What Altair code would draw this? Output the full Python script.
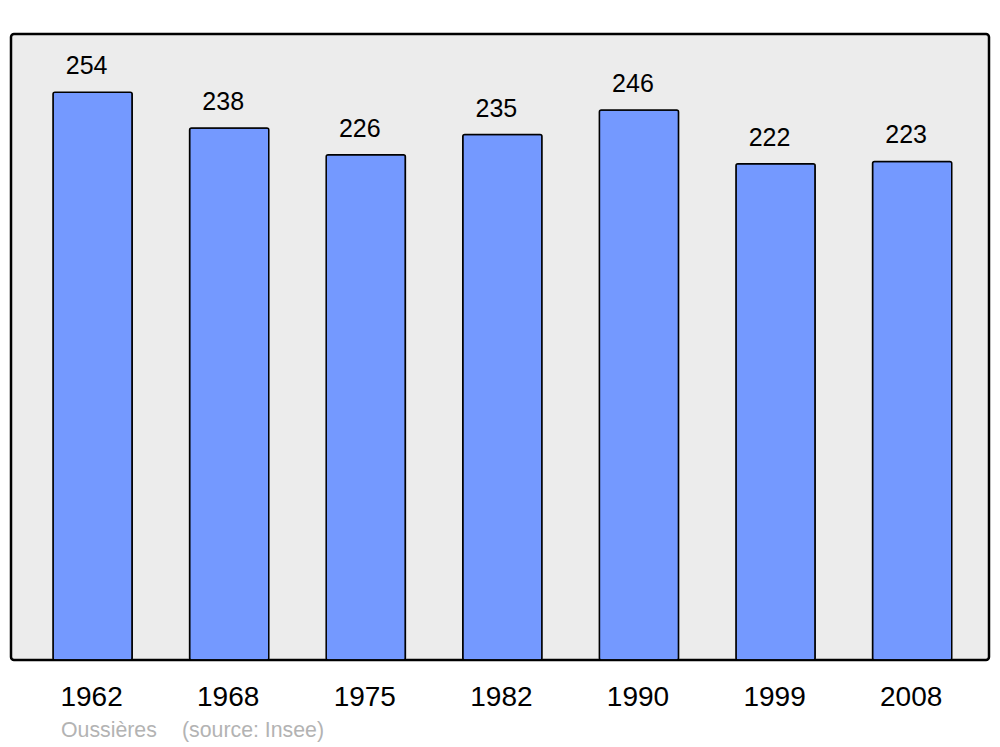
import altair as alt
import pandas as pd

years = ["1962", "1968", "1975", "1982", "1990", "1999", "2008"]
population = [254, 238, 226, 235, 246, 222, 223]
place = "Oussières"
source = "(source: Insee)"

df = pd.DataFrame({"year": years, "pop": population})

x = alt.X(
    "year:N",
    sort=years,
    title=None,
    scale=alt.Scale(paddingInner=0.42, paddingOuter=0.29, align=0.53),
    axis=alt.Axis(
        labelAngle=0,
        domain=False,
        ticks=False,
        grid=False,
        labelFontSize=28,
        labelColor="black",
        labelFont="Liberation Sans",
        labelBaseline="alphabetic",
        labelPadding=45,
        labelOffset=-1,
    ),
)
y = alt.Y("pop:Q", title=None, scale=alt.Scale(domain=[0, 280], nice=False, zero=True), axis=None)

bars = alt.Chart(df).mark_bar(
    color="#7499ff", stroke="black", strokeWidth=1.5, cornerRadius=2
).encode(x=x, y=y)

labels = alt.Chart(df).mark_text(
    dy=-18, dx=-6, baseline="alphabetic", fontSize=25, font="Liberation Sans", color="black"
).encode(x=x, y=y, text="pop:Q")

cap1 = alt.Chart(pd.DataFrame({"t": [place]})).mark_text(
    align="left", baseline="alphabetic", fontSize=21.3, font="Liberation Sans", color="#b3b3b3"
).encode(x=alt.value(50), y=alt.value(703), text="t:N")

cap2 = alt.Chart(pd.DataFrame({"t": [source]})).mark_text(
    align="left", baseline="alphabetic", fontSize=21.3, font="Liberation Sans", color="#b3b3b3"
).encode(x=alt.value(171), y=alt.value(703), text="t:N")

chart = alt.layer(bars, labels, cap1, cap2).properties(
    width=978,
    height=626,
    autosize=alt.AutoSizeParams(type="none"),
    padding={"left": 3, "top": 26, "right": 3, "bottom": 84},
    background="white",
).configure_view(
    fill="#ececec", stroke="black", strokeWidth=2.5, cornerRadius=3
)

chart.save("out.html", embed_options={"renderer": "svg", "actions": False})
